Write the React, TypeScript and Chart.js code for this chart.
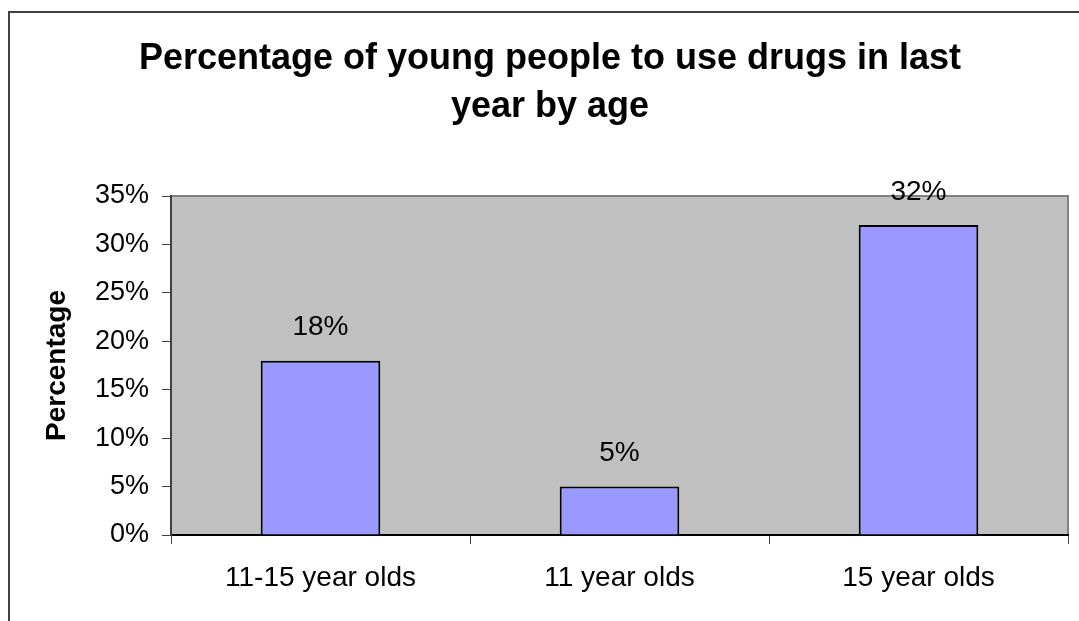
import { useEffect, useRef } from "react";
import { Chart, registerables } from "chart.js";

Chart.register(...registerables);

// Survey results: share of young people who used drugs in the last year
const categories = ["11-15 year olds", "11 year olds", "15 year olds"];
const percentages = [18, 5, 32];
const titleLines = ["Percentage of young people to use drugs in last", "year by age"];
const yAxisTitle = "Percentage";
const yMax = 35;
const yStep = 5;

const FONT = "'Liberation Sans', Arial, sans-serif";

// Grey plot panel plus the outer frame lines
const panelPlugin = {
  id: "panel",
  beforeDraw(chart: any) {
    const { ctx, chartArea } = chart;
    const { left, top, right, bottom } = chartArea;
    ctx.save();
    ctx.strokeStyle = "#404040";
    ctx.lineWidth = 2;
    ctx.beginPath();
    ctx.moveTo(9, chart.height + 2);
    ctx.lineTo(9, 12);
    ctx.lineTo(chart.width + 2, 12);
    ctx.stroke();

    ctx.fillStyle = "#C0C0C0";
    ctx.fillRect(left, top, right - left, bottom - top);
    ctx.strokeStyle = "#808080";
    ctx.lineWidth = 2;
    ctx.strokeRect(left, top, right - left, bottom - top);
    ctx.restore();
  },
};

// Value labels above each bar
const valueLabelPlugin = {
  id: "valueLabels",
  afterDatasetsDraw(chart: any) {
    const { ctx } = chart;
    const meta = chart.getDatasetMeta(0);
    const values = chart.data.datasets[0].data as number[];
    ctx.save();
    ctx.font = `28px ${FONT}`;
    ctx.fillStyle = "#000";
    ctx.textAlign = "center";
    ctx.textBaseline = "middle";
    meta.data.forEach((bar: any, i: number) => {
      ctx.fillText(`${values[i]}%`, bar.x, bar.y - 33);
    });
    ctx.restore();
  },
};

export default function App() {
  const canvasRef = useRef<HTMLCanvasElement | null>(null);

  useEffect(() => {
    if (!canvasRef.current) return;
    const chart = new Chart(canvasRef.current, {
      type: "bar",
      data: {
        labels: categories,
        datasets: [
          {
            data: percentages,
            backgroundColor: "#9999FF",
            borderColor: "#000000",
            borderWidth: 2,
            borderSkipped: "start",
            categoryPercentage: 1,
            barPercentage: 0.4,
          },
        ],
      },
      options: {
        animation: false,
        responsive: false,
        devicePixelRatio: 1,
        layout: { padding: { left: 32, right: 11, top: 0, bottom: 0 } },
        plugins: {
          legend: { display: false },
          tooltip: { enabled: false },
          title: {
            display: true,
            text: titleLines,
            color: "#000",
            font: { family: FONT, size: 36, weight: "bold", lineHeight: "48px" },
            padding: { top: 35, bottom: 65 },
          },
        },
        scales: {
          x: {
            afterFit: (scale: any) => {
              scale.height = 86;
            },
            grid: {
              drawOnChartArea: false,
              drawTicks: true,
              tickLength: 9,
              tickColor: "#404040",
              offset: true,
            },
            border: { display: true, color: "#000", width: 2 },
            ticks: {
              color: "#000",
              padding: 17,
              font: { family: FONT, size: 28 },
              maxRotation: 0,
            },
          },
          y: {
            min: 0,
            max: yMax,
            afterFit: (scale: any) => {
              scale.width = 139;
            },
            grid: {
              drawOnChartArea: false,
              drawTicks: true,
              tickLength: 9,
              tickColor: "#404040",
            },
            border: { display: true, color: "#404040", width: 2 },
            ticks: {
              stepSize: yStep,
              color: "#000",
              padding: 13,
              font: { family: FONT, size: 27 },
              callback: (v: any) => `${v}%`,
            },
            title: {
              display: true,
              text: yAxisTitle,
              color: "#000",
              font: { family: FONT, size: 28, weight: "bold", lineHeight: 1 },
              padding: { top: 11, bottom: 0 },
            },
          },
        },
      },
      plugins: [panelPlugin, valueLabelPlugin],
    });
    return () => chart.destroy();
  }, []);

  return (
    <div style={{ position: "absolute", left: 0, top: 0, width: 1079, height: 621 }}>
      <canvas ref={canvasRef} width={1079} height={621} style={{ display: "block" }} />
    </div>
  );
}
